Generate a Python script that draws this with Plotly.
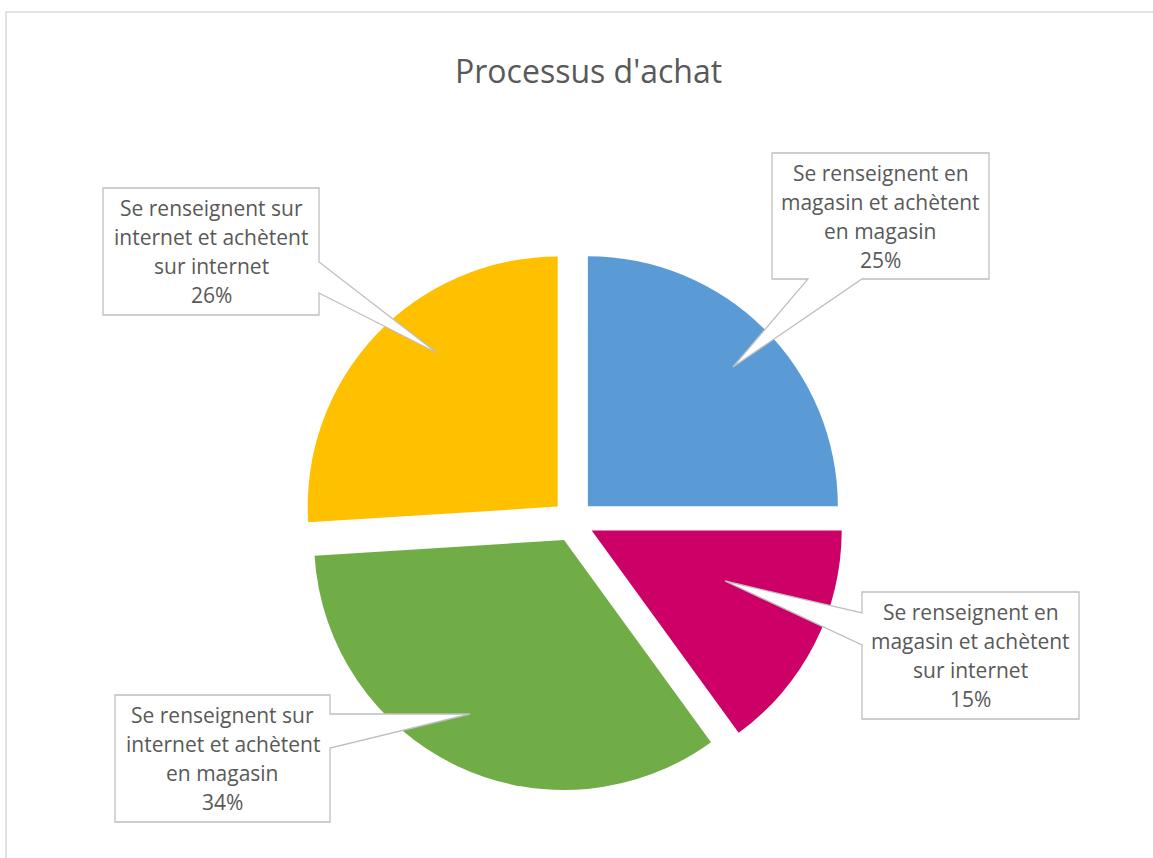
import plotly.graph_objects as go

W, H = 1153, 858

categories = [
    "Se renseignent en<br>magasin et achètent<br>en magasin",
    "Se renseignent en<br>magasin et achètent<br>sur internet",
    "Se renseignent sur<br>internet et achètent<br>en magasin",
    "Se renseignent sur<br>internet et achètent<br>sur internet",
]
values = [25, 15, 34, 26]
colors = ["#5B9BD5", "#CC0066", "#70AD47", "#FFC000"]
title_text = "Processus d'achat"

# callout layout: box (left, top, right, bottom), side of pointer, pointer base (a, b), tip (x, y) in pixels
callouts = [
    dict(box=(772, 153, 989, 279), side="bottom", base=(808, 862), tip=(733, 367)),
    dict(box=(862, 592, 1079, 719), side="left", base=(613, 645), tip=(725, 581)),
    dict(box=(115, 695, 330, 822), side="right", base=(714, 748), tip=(470, 714)),
    dict(box=(103, 188, 319, 315), side="right", base=(262, 293), tip=(437, 353)),
]


def px(x):
    return x / W


def py(y):
    return 1 - y / H


pull = 0.084
cx, cy, R = 573, 521, 250
half = R * (1 + pull)

fig = go.Figure(
    go.Pie(
        labels=categories,
        values=values,
        marker=dict(colors=colors, line=dict(width=0)),
        sort=False,
        direction="clockwise",
        rotation=0,
        pull=[pull] * len(values),
        textinfo="none",
        hoverinfo="label+percent",
        showlegend=False,
        domain=dict(x=[px(cx - half), px(cx + half)], y=[py(cy + half), py(cy - half)]),
    )
)

shapes = [
    dict(type="rect", xref="paper", yref="paper", x0=px(6), y0=py(12), x1=px(1160), y1=py(870),
         line=dict(color="#D9D9D9", width=1.5), fillcolor="rgba(0,0,0,0)", layer="below")
]
annotations = [
    dict(text=title_text, x=px(588), y=py(70), xref="paper", yref="paper", showarrow=False,
         font=dict(family="Open Sans", size=32, color="#595959"), xanchor="center", yanchor="middle")
]

total = sum(values)
for cat, val, co in zip(categories, values, callouts):
    l, t, r, b = co["box"]
    tx, ty = co["tip"]
    a1, a2 = co["base"]
    if co["side"] == "right":
        pts = [(l, t), (r, t), (r, a1), (tx, ty), (r, a2), (r, b), (l, b)]
    elif co["side"] == "left":
        pts = [(l, t), (r, t), (r, b), (l, b), (l, a2), (tx, ty), (l, a1)]
    else:  # bottom
        pts = [(l, t), (r, t), (r, b), (a2, b), (tx, ty), (a1, b), (l, b)]
    path = "M " + " L ".join(f"{px(x):.5f},{py(y):.5f}" for x, y in pts) + " Z"
    shapes.append(dict(type="path", path=path, xref="paper", yref="paper",
                       fillcolor="white", line=dict(color="#BFBFBF", width=1.3), layer="above"))
    lines = cat.split("<br>") + [f"{round(val / total * 100)}%"]
    mid = (t + b) / 2
    spacing = 29
    n = len(lines)
    for i, ln in enumerate(lines):
        yy = mid + (i - (n - 1) / 2) * spacing
        annotations.append(dict(text=ln, x=px((l + r) / 2), y=py(yy), xref="paper", yref="paper",
                                showarrow=False, xanchor="center", yanchor="middle",
                                font=dict(family="Open Sans", size=21, color="#595959")))

fig.update_layout(
    width=W, height=H,
    margin=dict(l=0, r=0, t=0, b=0),
    paper_bgcolor="white",
    plot_bgcolor="white",
    shapes=shapes,
    annotations=annotations,
)

fig.write_html("out.html", config={"displayModeBar": False},
               post_script="document.body.style.margin='0px';document.body.style.overflow='hidden';")
